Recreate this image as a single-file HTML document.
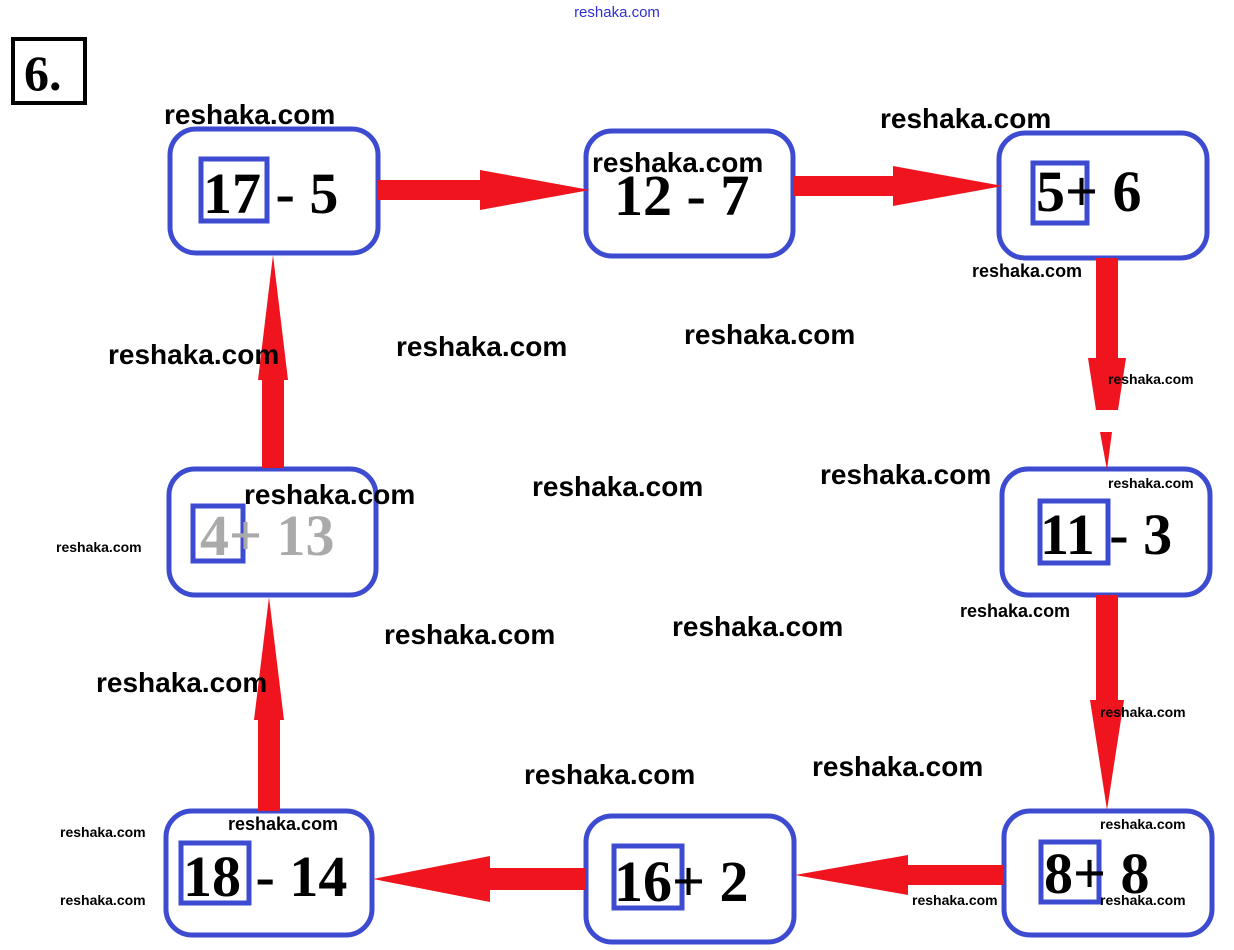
<!DOCTYPE html>
<html><head><meta charset="utf-8"><style>
html,body{margin:0;padding:0;background:#fff;width:1234px;height:950px;overflow:hidden}
svg{display:block}
.w{font-family:"Liberation Sans",sans-serif;font-weight:bold;fill:#000}
.n{font-family:"Liberation Serif",serif;font-weight:bold;fill:#000;font-size:58px}
</style></head><body>
<svg width="1234" height="950" xmlns="http://www.w3.org/2000/svg">
<g fill="none" stroke="#3d4bd0" stroke-width="5">
<rect x="170" y="129" width="208" height="124" rx="26"/>
<rect x="586" y="131" width="207" height="125" rx="26"/>
<rect x="999" y="133" width="208" height="125" rx="26"/>
<rect x="1002" y="469" width="208" height="126" rx="26"/>
<rect x="1004" y="811" width="208" height="124" rx="26"/>
<rect x="586" y="816" width="208" height="126" rx="26"/>
<rect x="166" y="811" width="206" height="124" rx="26"/>
<rect x="169" y="469" width="207" height="126" rx="26"/>
<rect x="201" y="159" width="66" height="62"/>
<rect x="1033" y="163" width="54" height="60"/>
<rect x="1040" y="501" width="68" height="62"/>
<rect x="1041" y="842" width="58" height="60"/>
<rect x="614" y="846" width="68" height="62"/>
<rect x="181" y="843" width="68" height="60"/>
<rect x="193" y="506" width="50" height="55"/>
</g>
<g fill="#f0141e">
<rect x="378" y="180" width="110" height="20"/><polygon points="480,170 590,190 480,210"/>
<rect x="793" y="176" width="110" height="20"/><polygon points="893,166 1003,186 893,206"/>
<rect x="1096" y="258" width="22" height="100"/><polygon points="1088,358 1126,358 1118,410 1096,410"/>
<polygon points="1100,432 1112,432 1107,470"/>
<rect x="1096" y="595" width="22" height="120"/><polygon points="1090,700 1124,700 1107,810"/>
<rect x="900" y="865" width="104" height="20"/><polygon points="908,855 795,875 908,895"/>
<rect x="480" y="868" width="106" height="22"/><polygon points="490,856 373,879 490,902"/>
<rect x="258" y="700" width="22" height="111"/><polygon points="254,720 284,720 269,597"/>
<rect x="262" y="360" width="22" height="108"/><polygon points="258,380 288,380 273,255"/>
</g>
<rect x="13" y="39" width="72" height="64" fill="none" stroke="#000" stroke-width="4"/>
<text x="24" y="90" font-family="Liberation Serif,serif" font-weight="bold" font-size="50">6.</text>
<text class="n" x="203" y="213">17 - 5</text>
<text class="n" x="614" y="215">12 - 7</text>
<text class="n" x="1036" y="211">5+ 6</text>
<text class="n" x="1040" y="554">11 - 3</text>
<text class="n" x="1044" y="893">8+ 8</text>
<text class="n" x="614" y="901">16+ 2</text>
<text class="n" x="183" y="896">18 - 14</text>
<text class="n" x="200" y="555" style="fill:#aaa">4+ 13</text>
<text x="617" y="17" text-anchor="middle" font-family="Liberation Sans,sans-serif" font-size="15" fill="#3030d0">reshaka.com</text>
<g class="w" font-size="28">
<text x="164" y="124">reshaka.com</text>
<text x="880" y="128">reshaka.com</text>
<text x="592" y="172">reshaka.com</text>
<text x="108" y="364">reshaka.com</text>
<text x="396" y="356">reshaka.com</text>
<text x="684" y="344">reshaka.com</text>
<text x="244" y="504">reshaka.com</text>
<text x="532" y="496">reshaka.com</text>
<text x="820" y="484">reshaka.com</text>
<text x="384" y="644">reshaka.com</text>
<text x="672" y="636">reshaka.com</text>
<text x="96" y="692">reshaka.com</text>
<text x="524" y="784">reshaka.com</text>
<text x="812" y="776">reshaka.com</text>
</g>
<g class="w" font-size="18">
<text x="972" y="277">reshaka.com</text>
<text x="960" y="617">reshaka.com</text>
<text x="228" y="830">reshaka.com</text>
</g>
<g class="w" font-size="14" font-weight="normal">
<text x="1108" y="384">reshaka.com</text>
<text x="1108" y="488">reshaka.com</text>
<text x="56" y="552">reshaka.com</text>
<text x="1100" y="717">reshaka.com</text>
<text x="1100" y="829">reshaka.com</text>
<text x="60" y="837">reshaka.com</text>
<text x="60" y="905">reshaka.com</text>
<text x="912" y="905">reshaka.com</text>
<text x="1100" y="905">reshaka.com</text>
</g>
</svg>
</body></html>
